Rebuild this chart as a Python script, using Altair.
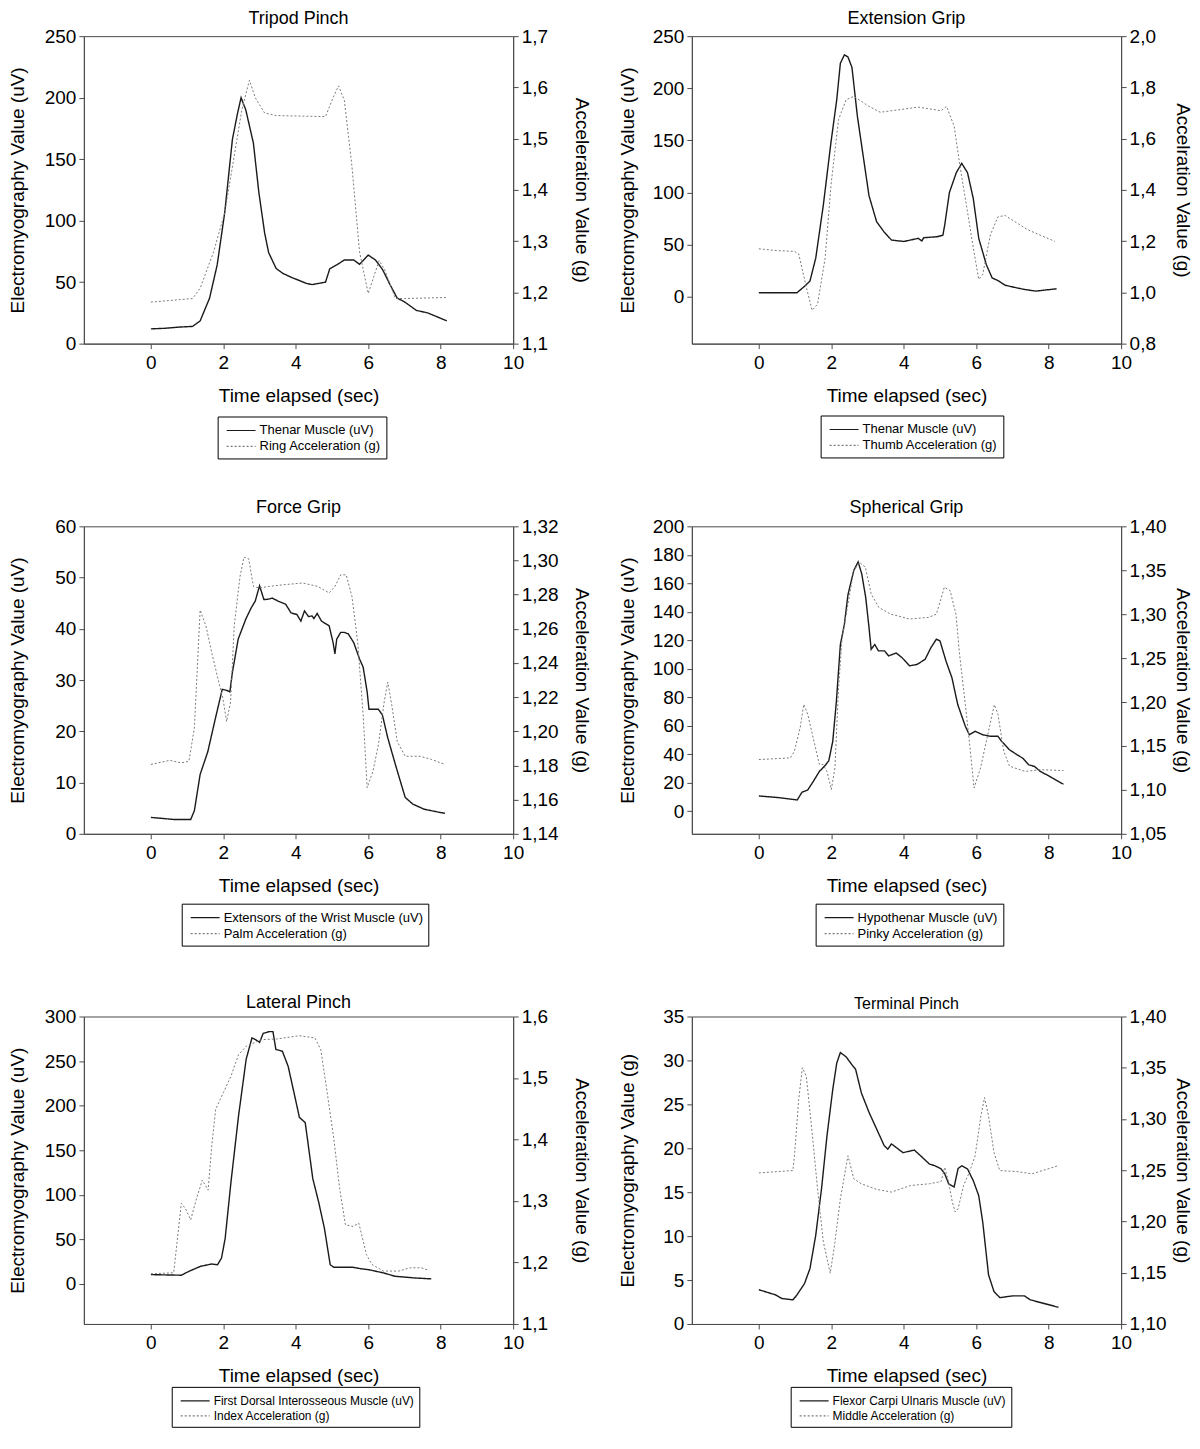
import altair as alt
import pandas as pd

FONT = "Liberation Sans, Arial, Helvetica, sans-serif"
XDOM = [-1.85, 10]
X_TICKS = [0, 2, 4, 6, 8, 10]

# ---------------- Tripod Pinch ----------------
tp_emg_t = [0, 0.4, 0.8, 1.15, 1.36, 1.62, 1.83, 2.04, 2.25, 2.39, 2.49, 2.62, 2.83, 2.98, 3.14, 3.25, 3.46, 3.65, 3.87, 4.29, 4.45, 4.82, 4.94, 5.13, 5.34, 5.6, 5.76, 6.0, 6.2, 6.4, 6.6, 6.8, 7.0, 7.33, 7.64, 8.17]
tp_emg = [12, 12.5, 13.5, 14, 18.5, 37, 64, 107, 166, 187, 200, 190, 163, 123, 90, 74, 61, 57, 54, 49, 48, 50, 61, 64, 68, 68, 64.5, 72, 68, 60, 48, 37, 34, 27, 25, 18.5]
tp_acc_t = [0, 1.15, 1.36, 1.73, 2.04, 2.3, 2.51, 2.72, 2.88, 3.14, 3.46, 4.82, 5.03, 5.18, 5.34, 5.55, 5.76, 6.0, 6.3, 6.45, 6.75, 7.0, 8.15]
tp_acc = [1.181, 1.188, 1.208, 1.279, 1.356, 1.466, 1.556, 1.614, 1.58, 1.55, 1.545, 1.543, 1.58, 1.603, 1.575, 1.446, 1.279, 1.198, 1.262, 1.245, 1.188, 1.188, 1.19]

# ---------------- Extension Grip ----------------
ex_emg_t = [0, 1.05, 1.26, 1.41, 1.57, 1.78, 1.99, 2.15, 2.25, 2.36, 2.46, 2.57, 2.72, 2.88, 3.04, 3.25, 3.46, 3.66, 4.0, 4.4, 4.5, 4.55, 4.92, 5.08, 5.13, 5.26, 5.45, 5.6, 5.76, 5.92, 6.07, 6.28, 6.44, 6.6, 6.8, 7.12, 7.33, 7.64, 8.22]
ex_emg = [3.8, 3.8, 10, 15, 37, 88, 148, 189, 224, 232, 230, 220, 173, 135, 97, 72, 62, 54.4, 53, 56, 53.5, 56.6, 57.6, 59, 68.7, 100, 119, 128, 119, 94, 56, 30.7, 18, 15.5, 11, 8.5, 7, 5.4, 7.6]
ex_acc_t = [0, 0.5, 0.98, 1.1, 1.31, 1.47, 1.62, 1.83, 1.99, 2.2, 2.41, 2.62, 3.04, 3.35, 4.4, 5.03, 5.18, 5.39, 5.55, 5.76, 5.92, 6.07, 6.18, 6.39, 6.6, 6.8, 7.02, 7.43, 8.17]
ex_acc = [1.17, 1.163, 1.16, 1.15, 1.02, 0.93, 0.954, 1.134, 1.417, 1.675, 1.752, 1.765, 1.726, 1.703, 1.723, 1.709, 1.726, 1.649, 1.495, 1.314, 1.173, 1.051, 1.07, 1.224, 1.295, 1.30, 1.28, 1.244, 1.199]

# ---------------- Force Grip ----------------
fg_emg_t = [0, 0.63, 1.1, 1.2, 1.36, 1.57, 1.78, 1.97, 2.09, 2.18, 2.25, 2.41, 2.62, 2.77, 2.88, 3.0, 3.12, 3.25, 3.35, 3.51, 3.72, 3.87, 4.03, 4.14, 4.24, 4.35, 4.45, 4.5, 4.59, 4.71, 4.92, 5.03, 5.08, 5.13, 5.24, 5.34, 5.45, 5.6, 5.76, 5.86, 5.97, 6.02, 6.28, 6.39, 6.54, 6.75, 6.91, 7.02, 7.23, 7.54, 7.96, 8.12]
fg_emg = [3.2, 2.8, 2.8, 4.5, 11.6, 16, 22.5, 28.2, 28, 27.7, 31.5, 38, 41.9, 44.1, 45.4, 48.4, 45.7, 45.8, 46, 45.4, 44.8, 43.1, 42.8, 41.5, 43.5, 42.4, 42.5, 42, 43, 41.5, 40.6, 37.3, 35.1, 38, 39.3, 39.3, 39, 37.3, 34.1, 32.5, 27.7, 24.3, 24.3, 23.2, 18.7, 13.5, 9.7, 7.1, 5.8, 4.8, 4.2, 4]
fg_acc_t = [0, 0.52, 0.84, 1.05, 1.2, 1.36, 1.52, 1.68, 1.83, 1.99, 2.09, 2.2, 2.3, 2.46, 2.57, 2.7, 2.83, 2.98, 3.25, 3.66, 4.19, 4.61, 4.92, 5.08, 5.24, 5.39, 5.55, 5.71, 5.86, 5.97, 6.13, 6.28, 6.44, 6.54, 6.65, 6.8, 7.02, 7.43, 7.75, 8.12]
fg_acc = [1.1806, 1.183, 1.1815, 1.1825, 1.2018, 1.271, 1.2617, 1.246, 1.2327, 1.219, 1.2057, 1.2172, 1.2617, 1.2906, 1.302, 1.301, 1.2848, 1.2839, 1.2848, 1.2858, 1.2868, 1.2848, 1.281, 1.2848, 1.2916, 1.2916, 1.279, 1.252, 1.2095, 1.167, 1.1767, 1.1921, 1.2172, 1.2288, 1.2153, 1.194, 1.1854, 1.1854, 1.1835, 1.1806]

# ---------------- Spherical Grip ----------------
sg_emg_t = [0, 0.55, 1.06, 1.19, 1.35, 1.5, 1.67, 1.83, 1.93, 2.04, 2.14, 2.25, 2.36, 2.46, 2.62, 2.74, 2.84, 2.95, 3.04, 3.1, 3.2, 3.3, 3.47, 3.58, 3.79, 3.95, 4.16, 4.37, 4.59, 4.75, 4.9, 5.0, 5.17, 5.33, 5.49, 5.7, 5.81, 5.97, 6.18, 6.39, 6.6, 6.7, 6.92, 7.13, 7.29, 7.45, 7.61, 7.77, 7.98, 8.41]
sg_emg = [10.6, 9.4, 7.8, 13.2, 14.8, 20.7, 27.8, 32, 35.3, 49, 77, 117, 131, 152, 169, 175, 166.6, 150, 129, 113.6, 117, 112.5, 112.5, 109, 111, 107.8, 102, 103, 106.6, 114.8, 120.7, 119.5, 105, 93.6, 74.8, 59.5, 53.6, 56, 53.6, 52.5, 52.5, 49, 43, 39.5, 37, 32.5, 31.3, 27.8, 25, 18.8]
sg_acc_t = [0, 0.87, 0.98, 1.14, 1.24, 1.35, 1.5, 1.67, 1.77, 1.88, 2.0, 2.1, 2.2, 2.3, 2.46, 2.62, 2.78, 2.94, 3.1, 3.31, 3.63, 4.16, 4.69, 4.9, 5.12, 5.28, 5.44, 5.54, 5.7, 5.81, 5.94, 6.12, 6.28, 6.5, 6.6, 6.76, 6.92, 7.35, 7.77, 8.41]
sg_acc = [1.1345, 1.1364, 1.144, 1.1707, 1.1974, 1.186, 1.159, 1.129, 1.129, 1.121, 1.1003, 1.125, 1.216, 1.2735, 1.3116, 1.3497, 1.359, 1.3535, 1.323, 1.3078, 1.3002, 1.2945, 1.2964, 1.3, 1.3307, 1.3268, 1.3, 1.2545, 1.197, 1.1555, 1.1022, 1.125, 1.1555, 1.197, 1.186, 1.144, 1.127, 1.121, 1.123, 1.122]

# ---------------- Lateral Pinch ----------------
lp_emg_t = [0, 0.84, 1.05, 1.37, 1.68, 1.84, 1.95, 2.05, 2.21, 2.42, 2.63, 2.79, 2.89, 3.0, 3.1, 3.26, 3.37, 3.45, 3.63, 3.79, 3.95, 4.1, 4.26, 4.37, 4.47, 4.63, 4.79, 4.95, 5.05, 5.58, 5.79, 6.0, 6.42, 6.74, 7.26, 7.74]
lp_emg = [10.4, 9.7, 14.1, 19.7, 22.3, 21.5, 29, 51, 114, 188.6, 252, 276, 274, 271, 281, 283, 283, 263, 261, 244, 214.6, 186.8, 181, 148, 118, 92, 62.4, 21.5, 18.6, 18.6, 17, 16, 12.3, 8.5, 6.7, 5.6]
lp_acc_t = [0, 0.63, 0.84, 0.95, 1.1, 1.26, 1.42, 1.58, 1.68, 1.79, 2.0, 2.21, 2.42, 2.63, 3.05, 3.47, 4.1, 4.53, 4.69, 4.84, 5.05, 5.21, 5.37, 5.58, 5.74, 5.95, 6.1, 6.42, 6.84, 7.16, 7.47, 7.68]
lp_acc = [1.1817, 1.1833, 1.2962, 1.288, 1.2694, 1.304, 1.3339, 1.3177, 1.39, 1.4495, 1.476, 1.503, 1.538, 1.5516, 1.5624, 1.5634, 1.5688, 1.565, 1.546, 1.487, 1.401, 1.3204, 1.2613, 1.2586, 1.264, 1.2129, 1.1968, 1.186, 1.186, 1.1914, 1.1914, 1.187]

# ---------------- Terminal Pinch ----------------
tm_emg_t = [0, 0.47, 0.63, 0.94, 1.05, 1.26, 1.41, 1.57, 1.73, 1.88, 2.04, 2.15, 2.25, 2.41, 2.57, 2.67, 2.83, 3.04, 3.25, 3.46, 3.56, 3.66, 3.98, 4.19, 4.29, 4.45, 4.71, 4.87, 5.03, 5.13, 5.24, 5.39, 5.5, 5.6, 5.76, 5.92, 6.07, 6.18, 6.34, 6.49, 6.65, 7.02, 7.33, 7.49, 8.27]
tm_emg = [3.9, 3.3, 2.9, 2.75, 3.3, 4.6, 6.3, 10.1, 15.4, 21.4, 26.7, 29.7, 30.9, 30.4, 29.5, 29, 26.3, 24.1, 22.2, 20.3, 19.9, 20.5, 19.5, 19.7, 19.8, 19.2, 18.2, 18, 17.65, 17.1, 15.95, 15.6, 17.7, 18, 17.65, 16.3, 14.6, 11.6, 5.6, 3.7, 3.0, 3.2, 3.2, 2.75, 1.9]
tm_acc_t = [0, 0.94, 0.99, 1.1, 1.2, 1.31, 1.47, 1.62, 1.78, 1.97, 2.09, 2.25, 2.46, 2.62, 2.83, 3.25, 3.66, 4.19, 4.71, 5.03, 5.13, 5.24, 5.34, 5.42, 5.5, 5.65, 5.81, 5.97, 6.13, 6.23, 6.34, 6.49, 6.65, 7.12, 7.54, 8.27]
tm_acc = [1.2474, 1.2497, 1.2675, 1.3192, 1.35, 1.3418, 1.2869, 1.2319, 1.1802, 1.1495, 1.177, 1.2222, 1.2642, 1.2416, 1.2368, 1.2313, 1.2287, 1.2351, 1.2368, 1.239, 1.2529, 1.2384, 1.219, 1.2093, 1.2125, 1.235, 1.248, 1.2642, 1.303, 1.3208, 1.303, 1.2675, 1.2497, 1.2487, 1.2465, 1.2545]

AXIS_GREY = "#4a4a4a"
# legend line sample: a horizontal stroke drawn mostly to the right of the symbol slot
LEGEND_SYMBOL = "M-0.625,0H3.0"


def panel(title, title_size, title_offset, et, ev, at, av, emg_label, acc_label,
          left_title, right_title, left_dom, left_ticks, right_dom, right_ticks,
          right_fmt, legend_x, legend_y, legend_fs, ytitle_x, rtitle_x):
    df_e = pd.DataFrame({"t": et, "v": ev, "series": emg_label})
    df_a = pd.DataFrame({"t": at, "v": av, "series": acc_label})
    dom = [emg_label, acc_label]
    leg = alt.Legend(
        orient="none", legendX=legend_x, legendY=legend_y, title=None,
        labelFontSize=legend_fs, labelFont=FONT, labelColor="black",
        strokeColor="black", fillColor="white", padding=5,
        symbolType=LEGEND_SYMBOL, symbolSize=256, symbolStrokeWidth=1.2,
        labelOffset=19, rowPadding=0, labelLimit=400,
    )
    color = alt.Color("series:N", scale=alt.Scale(domain=dom, range=["#1a1a1a", "#7a7a7a"]), legend=leg)
    dash = alt.StrokeDash("series:N", scale=alt.Scale(domain=dom, range=[[1, 0], [2, 2]]), legend=leg)
    x = alt.X("t:Q", scale=alt.Scale(domain=XDOM, nice=False, zero=False),
              axis=alt.Axis(values=X_TICKS, title="Time elapsed (sec)", titlePadding=14,
                            labelPadding=5))
    emg = alt.Chart(df_e).mark_line(strokeWidth=1.4).encode(
        x=x,
        y=alt.Y("v:Q", scale=alt.Scale(domain=left_dom, nice=False, zero=False),
                axis=alt.Axis(orient="left", values=left_ticks, title=left_title,
                              titleX=ytitle_x, labelPadding=3)),
        color=color, strokeDash=dash,
    )
    acc = alt.Chart(df_a).mark_line(strokeWidth=1.0).encode(
        x=x,
        y=alt.Y("v:Q", scale=alt.Scale(domain=right_dom, nice=False, zero=False),
                axis=alt.Axis(orient="right", values=right_ticks, title=right_title,
                              labelPadding=3, titleX=rtitle_x,
                              labelExpr=f"replace(format(datum.value, '{right_fmt}'), '.', ',')")),
        color=color, strokeDash=dash,
    )
    return alt.layer(emg, acc).resolve_scale(y="independent").properties(
        width=430, height=308,
        title=alt.TitleParams(title, fontSize=title_size, offset=title_offset,
                              font=FONT, fontWeight="normal", color="black"),
    )


p1 = panel("Tripod Pinch", 18, -1, tp_emg_t, tp_emg, tp_acc_t, tp_acc,
           "Thenar Muscle (uV)", "Ring Acceleration (g)",
           "Electromyography Value (uV)", "Acceleration Value (g)",
           [0, 250], [0, 50, 100, 150, 200, 250],
           [1.1, 1.7], [1.1, 1.2, 1.3, 1.4, 1.5, 1.6, 1.7], ".1f",
           134, 381, 13, -56, 58)
p2 = panel("Extension Grip", 18, -1, ex_emg_t, ex_emg, ex_acc_t, ex_acc,
           "Thenar Muscle (uV)", "Thumb Acceleration (g)",
           "Electromyography Value (uV)", "Accelration Value (g)",
           [-45, 250], [0, 50, 100, 150, 200, 250],
           [0.8, 2.0], [0.8, 1.0, 1.2, 1.4, 1.6, 1.8, 2.0], ".1f",
           129, 380, 13, -54, 51)
p3 = panel("Force Grip", 18, 0, fg_emg_t, fg_emg, fg_acc_t, fg_acc,
           "Extensors of the Wrist Muscle (uV)", "Palm Acceleration (g)",
           "Electromyography Value (uV)", "Acceleration Value (g)",
           [0, 60], [0, 10, 20, 30, 40, 50, 60],
           [1.14, 1.32], [1.14, 1.16, 1.18, 1.20, 1.22, 1.24, 1.26, 1.28, 1.30, 1.32], ".2f",
           98, 378, 13, -56, 58)
p4 = panel("Spherical Grip", 18, 0, sg_emg_t, sg_emg, sg_acc_t, sg_acc,
           "Hypothenar Muscle (uV)", "Pinky Acceleration (g)",
           "Electromyography Value (uV)", "Acceleration Value (g)",
           [-16, 200], [0, 20, 40, 60, 80, 100, 120, 140, 160, 180, 200],
           [1.05, 1.40], [1.05, 1.10, 1.15, 1.20, 1.25, 1.30, 1.35, 1.40], ".2f",
           124, 378, 13, -54, 51)
p5 = panel("Lateral Pinch", 18, -4, lp_emg_t, lp_emg, lp_acc_t, lp_acc,
           "First Dorsal Interosseous Muscle (uV)", "Index Acceleration (g)",
           "Electromyography Value (uV)", "Acceleration Value (g)",
           [-45, 300], [0, 50, 100, 150, 200, 250, 300],
           [1.1, 1.6], [1.1, 1.2, 1.3, 1.4, 1.5, 1.6], ".1f",
           88, 371, 12, -56, 58)
p6 = panel("Terminal Pinch", 16, -4, tm_emg_t, tm_emg, tm_acc_t, tm_acc,
           "Flexor Carpi Ulnaris Muscle (uV)", "Middle Acceleration (g)",
           "Electromyography Value (g)", "Acceleration Value (g)",
           [0, 35], [0, 5, 10, 15, 20, 25, 30, 35],
           [1.10, 1.40], [1.10, 1.15, 1.20, 1.25, 1.30, 1.35, 1.40], ".2f",
           99, 371, 12, -54, 51)

RES = dict(x="independent", y="independent", color="independent", strokeDash="independent")

chart = (
    alt.concat(p1, p2, p3, p4, p5, p6, columns=2,
               spacing={"row": 183, "column": 179}, bounds="flush")
    .resolve_scale(**RES)
    .properties(padding={"left": 0, "top": 0, "right": 0, "bottom": 0})
    .configure(font=FONT)
    .configure_view(stroke=AXIS_GREY, strokeWidth=1)
    .configure_axis(
        grid=False, domainColor=AXIS_GREY, tickColor=AXIS_GREY, tickSize=5,
        labelColor="black", titleColor="black", labelFontSize=19, titleFontSize=19,
        titleFontWeight="normal", labelFont=FONT, titleFont=FONT,
        labelFlush=False, labelOverlap=False,
    )
)

chart.save("out.html", embed_options={"renderer": "svg", "actions": False})
